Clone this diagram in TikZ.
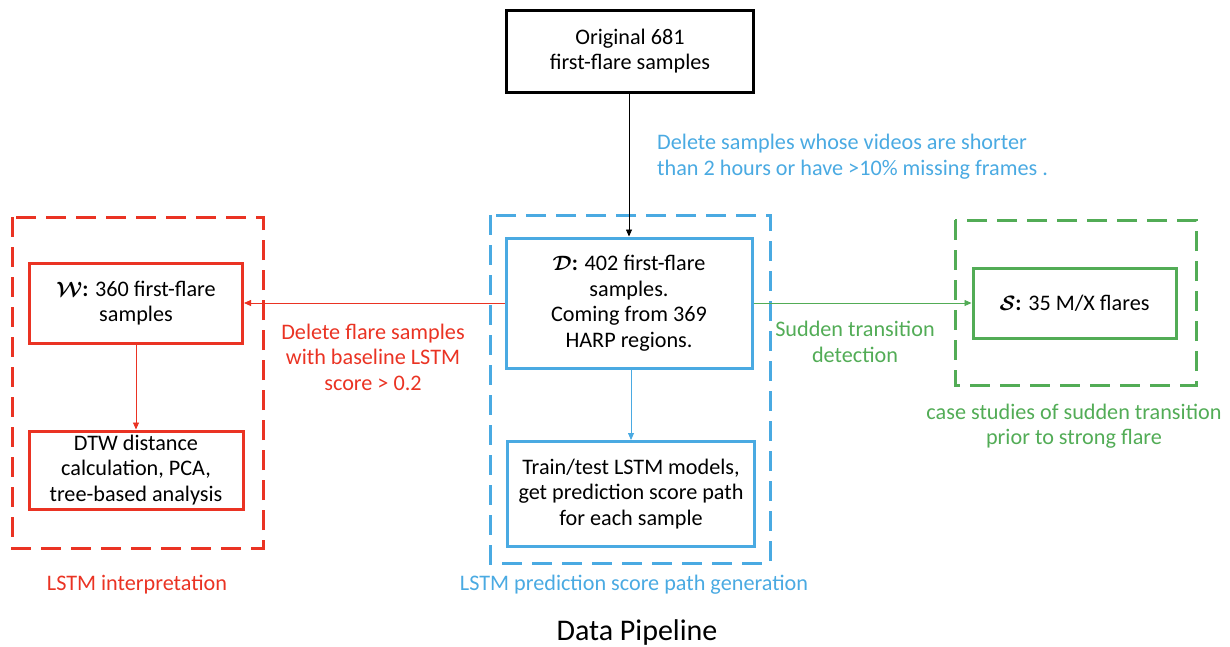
\documentclass[tikz,border=0pt]{standalone}
\usepackage{amsmath,amssymb}
\usepackage{fontspec}
\setmainfont{Carlito}
\usetikzlibrary{arrows.meta}
\definecolor{cred}{RGB}{234,51,35}
\definecolor{cblue}{RGB}{74,170,226}
\definecolor{cgreen}{RGB}{82,172,86}
\newcommand{\bsym}[1]{$\boldsymbol{\mathcal{#1}}$\textbf{:}}
\begin{document}
\begin{tikzpicture}[x=1pt,y=-1pt,
  every node/.style={font=\fontsize{22.2}{25.5}\selectfont, inner sep=0pt, align=center},
  pbox/.style={draw, line width=3pt, inner sep=0pt},
  dbox/.style={draw, line width=3pt, dash pattern=on 20pt off 10pt},
  conn/.style={line width=0.8pt, -{Triangle[length=7pt,width=6pt]}},
  lab/.style={font=\fontsize{22.2}{25.5}\selectfont}]
\useasboundingbox (0,0) rectangle (1230,646);
% outer dashed groups
\draw[dbox, cred] (12,217) rectangle (263,548);
\draw[dbox, cblue] (490,215) rectangle (770,563);
\draw[dbox, cgreen] (955,220) rectangle (1196,385);
% boxes
\node[pbox, black, minimum width=247pt, minimum height=82pt, text=black] (orig) at (630,51) {Original 681\\first-flare samples};
\node[pbox, cblue, minimum width=246pt, minimum height=130pt, text=black] (D) at (629,303) {\bsym{D} 402 first-flare\\samples.\\Coming from 369\\HARP regions.};
\node[pbox, cblue, minimum width=247pt, minimum height=105pt, text=black] (T) at (631,494) {Train/test LSTM models,\\get prediction score path\\for each sample};
\node[pbox, cred, minimum width=213pt, minimum height=80pt, text=black] (W) at (136,303) {\bsym{W} 360 first-flare\\samples};
\node[pbox, cred, minimum width=214pt, minimum height=78pt, text=black] (DTW) at (136,470) {DTW distance\\calculation, PCA,\\tree-based analysis};
\node[pbox, cgreen, minimum width=203pt, minimum height=70pt, text=black] (S) at (1074.5,303) {\bsym{S} 35 M/X flares};
% connectors
\draw[conn, black] (orig.south -| 629,0) -- (D.north -| 629,0);
\draw[conn, cblue] (D.south -| 631,0) -- (T.north -| 631,0);
\draw[conn, cred] (D.west) -- (W.east);
\draw[conn, cred] (W.south) -- (DTW.north);
\draw[conn, cgreen] (D.east) -- (S.west);
% labels
\node[lab, text=cblue, align=left, anchor=north west] (l1) at (657,134) {Delete samples whose videos are shorter\\than 2 hours or have >10\% missing frames .};
\node[lab, text=cred] (l2) at (373,357) {Delete flare samples\\with baseline LSTM\\score > 0.2};
\node[lab, text=cgreen] (l3) at (855,342) {Sudden transition\\detection};
\node[lab, text=cgreen] (l4) at (1074,426) {case studies of sudden transition\\prior to strong flare};
\node[lab, text=cred] (l5) at (137,585) {LSTM interpretation};
\node[lab, text=cblue] (l6) at (634,585) {LSTM prediction score path generation};
\node[font=\fontsize{30}{34}\selectfont] (title) at (637,632) {Data Pipeline};
\end{tikzpicture}
\end{document}
